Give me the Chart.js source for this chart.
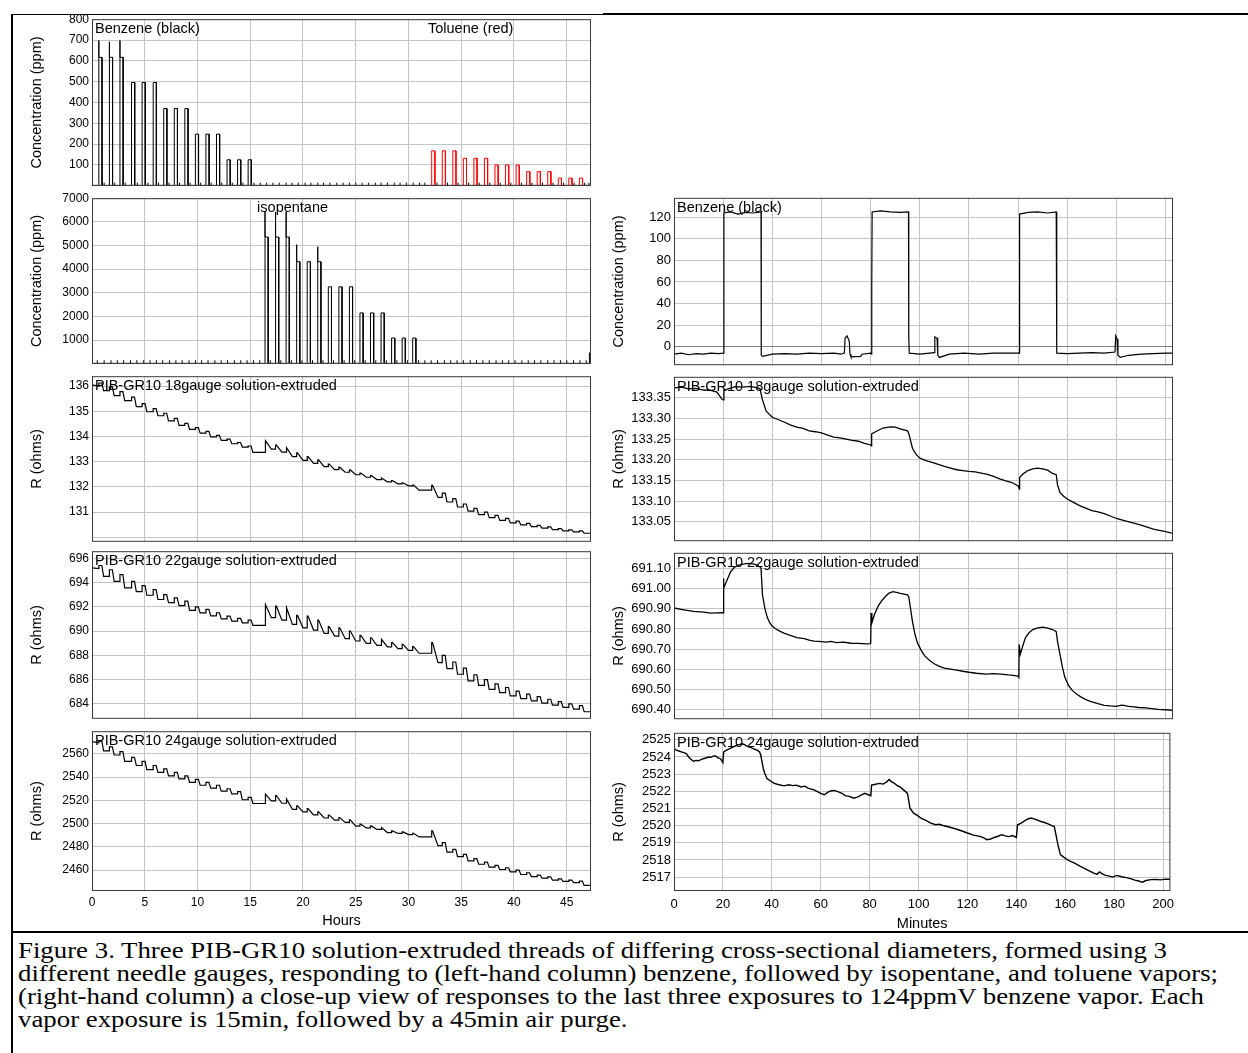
<!DOCTYPE html>
<html>
<head>
<meta charset="utf-8">
<script src="https://cdn.jsdelivr.net/npm/chart.js@4.4.1/dist/chart.umd.min.js"></script>
<style>
    body { margin: 0; background: #fff; }
    #fig { position: relative; width: 1248px; height: 1053px; overflow: hidden; background: #fff; }
    #fig canvas { position: absolute; }
    .rule { position: absolute; background: #000; }
    .cap {
        position: absolute; left: 18px; height: 24px; line-height: 24px;
        font-family: "Liberation Serif", "Times New Roman", serif; font-size: 23px;
        white-space: nowrap; color: #000; transform-origin: 0 50%;
    }
</style>
</head>
<body>
<div id="fig">
    <div class="rule" style="left:12px;top:14px;width:591px;height:1px"></div>
    <div class="rule" style="left:603px;top:13px;width:645px;height:2px"></div>
    <div class="rule" style="left:11px;top:14px;width:2px;height:1039px"></div>
    <div class="rule" style="left:12px;top:931px;width:1236px;height:2px"></div>

    <canvas id="conc-bt"></canvas>
    <canvas id="conc-iso"></canvas>
    <canvas id="r18"></canvas>
    <canvas id="r22"></canvas>
    <canvas id="r24"></canvas>
    <canvas id="close-conc"></canvas>
    <canvas id="close18"></canvas>
    <canvas id="close22"></canvas>
    <canvas id="close24"></canvas>

    <span class="cap" style="top:939px">Figure 3. Three PIB-GR10 solution-extruded threads of differing cross-sectional diameters, formed using 3</span>
    <span class="cap" style="top:962px">different needle gauges, responding to (left-hand column) benzene, followed by isopentane, and toluene vapors;</span>
    <span class="cap" style="top:985px">(right-hand column) a close-up view of responses to the last three exposures to 124ppmV benzene vapor. Each</span>
    <span class="cap" style="top:1008px">vapor exposure is 15min, followed by a 45min air purge.</span>
</div>
<script>
// ---- long run (hours) ----
const HOURS_MAX = 47.3;
const hourTicks = [0, 5, 10, 15, 20, 25, 30, 35, 40, 45];

const benzeneStarts = [0.65, 1.65, 2.65, 3.75, 4.75, 5.8, 6.8, 7.8, 8.8, 9.8, 10.8, 11.8, 12.8, 13.8, 14.8];
const benzeneLevels = [617, 617, 617, 496, 496, 496, 371, 371, 371, 248, 248, 248, 125, 125, 125];
const benzeneSpikes = [698, 692, 698, null, null, null, null, null, null, null, null, null, null, null, null];

const isoStarts = [16.4, 17.4, 18.4, 19.4, 20.4, 21.4, 22.4, 23.4, 24.4, 25.4, 26.4, 27.4, 28.4, 29.4, 30.4];
const isoLevels = [5358, 5358, 5358, 4315, 4315, 4315, 3254, 3254, 3254, 2150, 2150, 2150, 1090, 1090, 1090];
const isoSpikes = [6420, 6420, 6420, 5036, null, 4950, null, null, null, null, null, null, null, null, null];

const tolueneStarts = [32.2, 33.2, 34.2, 35.2, 36.2, 37.2, 38.2, 39.2, 40.2, 41.2, 42.2, 43.2, 44.2, 45.2, 46.2];
const tolueneLevels = [168, 168, 168, 132, 132, 132, 100, 100, 100, 68, 68, 68, 37, 37, 37];

// small flow blips on the concentration baselines
const baseBlipsBT = [1.15, 2.15, 3.15, 4.3, 5.3, 6.3, 7.3, 8.3, 9.3, 10.3, 11.3, 12.3, 13.3, 14.3, 15.35,
    15.95, 16.55, 17.15, 17.75, 18.4, 18.95, 19.55, 20.2, 20.75, 21.4, 21.95, 22.55, 23.2, 23.8, 24.4,
    25.0, 25.6, 26.2, 26.85, 27.4, 28.0, 28.65, 29.2, 29.8, 30.45, 31.05, 31.55, 32.7, 33.7, 34.7, 35.7,
    36.7, 37.7, 38.7, 39.7, 40.7, 41.7, 42.7, 43.7, 44.7, 45.7, 46.7, 47.1];
const baseBlipsIso = [0.5, 1.15, 1.8, 2.4, 3.0, 3.65, 4.25, 4.9, 5.5, 6.1, 6.7, 7.35, 7.95, 8.55, 9.2,
    9.8, 10.4, 11.0, 11.65, 12.25, 12.85, 13.5, 14.1, 14.7, 15.3, 15.9, 16.9, 17.9, 18.9, 19.9, 20.9,
    21.9, 22.9, 23.9, 24.9, 25.9, 26.9, 27.9, 28.9, 29.9, 30.95, 31.55, 32.15, 32.75, 33.4, 34.0, 34.6,
    35.2, 35.85, 36.45, 37.05, 37.65, 38.3, 38.9, 39.5, 40.1, 40.75, 41.35, 41.95, 42.55, 43.2, 43.8,
    44.4, 45.0, 45.65, 46.25, 46.85];
const blipHeightBT = 15;
const blipHeightIso = 150;
const endSpikeIso = 480;

// exposure order for the resistance records: q = square response, s = sharp rise then decay
const exposureStarts = benzeneStarts.concat(isoStarts, tolueneStarts);
const exposureShape = "qqqqqqqqqqqqqqq" + "sssssssssssssss" + "sqqqqqqqqqqqqqq";

const r18Start = 136.05, r18End = 130.16;
const r18Pre = [136.0, 135.82, 135.62, 135.42, 135.18, 134.98, 134.82, 134.62, 134.44, 134.28, 134.13, 133.98, 133.84, 133.71, 133.58,
    133.37, 133.5, 133.38, 133.2, 133.05, 132.93, 132.8, 132.68, 132.58, 132.48, 132.38, 132.29, 132.2, 132.12, 132.04,
    131.87, 131.58, 131.4, 131.2, 131.04, 130.9, 130.78, 130.67, 130.57, 130.49, 130.42, 130.36, 130.3, 130.25, 130.21];
const r18Peak = [136.12, 135.97, 135.78, 135.56, 135.3, 135.1, 134.92, 134.72, 134.52, 134.35, 134.2, 134.04, 133.89, 133.76, 133.62,
    133.83, 133.66, 133.55, 133.35, 133.2, 133.07, 132.9, 132.78, 132.67, 132.55, 132.45, 132.35, 132.25, 132.16, 132.07,
    132.06, 131.75, 131.53, 131.32, 131.15, 131.0, 130.87, 130.75, 130.64, 130.55, 130.47, 130.41, 130.34, 130.29, 130.25];

const r22Start = 695.2, r22End = 683.35;
const r22Pre = [695.15, 694.5, 694.1, 693.55, 693.25, 692.95, 692.6, 692.35, 692.1, 691.7, 691.5, 691.25, 691.0, 690.82, 690.68,
    690.47, 691.1, 690.9, 690.55, 690.27, 690.08, 689.81, 689.59, 689.37, 689.18, 688.99, 688.82, 688.69, 688.55, 688.41,
    688.17, 687.4, 686.9, 686.44, 685.89, 685.53, 685.2, 684.93, 684.66, 684.44, 684.25, 684.06, 683.9, 683.71, 683.57];
const r22Peak = [695.4, 695.05, 694.65, 694.1, 693.75, 693.42, 693.0, 692.74, 692.47, 692.0, 691.78, 691.51, 691.23, 691.04, 690.9,
    692.19, 692.05, 691.92, 691.29, 691.23, 690.9, 690.36, 690.27, 690.0, 689.64, 689.45, 689.32, 689.04, 688.91, 688.71,
    689.04, 688.0, 687.45, 686.95, 686.4, 686.0, 685.65, 685.35, 685.05, 684.8, 684.6, 684.38, 684.18, 684.0, 683.85];

const r24Start = 2570.6, r24End = 2446.8;
const r24Pre = [2569.5, 2562.5, 2559, 2553.5, 2550, 2546.5, 2544, 2541, 2538.5, 2535.5, 2533, 2530.5, 2528, 2525.5, 2520.5,
    2517.3, 2519.5, 2517.5, 2512.3, 2510.0, 2507.5, 2504.8, 2503.0, 2501.0, 2497.8, 2496.3, 2495.0, 2492.3, 2491.5, 2490.5,
    2488.5, 2481.0, 2475.5, 2471.5, 2468.0, 2465.0, 2462.5, 2460.5, 2458.5, 2456.2, 2454.4, 2453.0, 2451.3, 2450.2, 2449.2];
const r24Peak = [2571, 2566, 2562, 2557, 2553.5, 2550, 2547, 2544, 2541, 2538, 2535.5, 2533, 2530, 2527.5, 2522.5,
    2525.4, 2524.0, 2521.1, 2515.3, 2513.0, 2510.1, 2507.3, 2505.2, 2503.2, 2499.5, 2498.0, 2496.6, 2493.7, 2492.8, 2491.7,
    2493.7, 2483.6, 2477.9, 2473.5, 2469.8, 2466.9, 2464.0, 2462.0, 2460.0, 2457.7, 2455.7, 2454.2, 2452.5, 2451.4, 2450.5];

// ---- close-up of last three 124 ppm benzene exposures (minutes) ----
const MINUTES_MAX = 203;
const minuteTicks = [0, 20, 40, 60, 80, 100, 120, 140, 160, 180, 200];

const closeBenzene = [[0, -7], [3, -6], [6, -7.5], [9, -6.5], [12, -7], [15, -6], [18, -6.5], [20.2, -6], [20.3, 124],
    [23, 125], [26, 123], [29, 124.5], [32, 124], [35.4, 125], [35.5, -8], [36, -9], [40, -7], [45, -6.5], [50, -7],
    [55, -6], [60, -6.5], [65, -6], [68, -7], [69.3, -6], [69.6, 8], [70.4, 10], [71.3, 5], [71.6, -7], [72, -9.5],
    [76, -9], [76.5, -7], [80, -6], [80.4, -7], [80.45, 57], [80.6, 125], [84, 126], [88, 125], [92, 124.5], [95.4, 125],
    [95.5, 10], [95.7, -6], [100, -7], [104, -6], [105.8, -5.5], [106.1, 9], [107, 8], [107.3, -8], [108, -10], [112, -7],
    [118, -6], [124, -7], [130, -6], [136, -6], [140.5, -6], [140.6, 123], [144, 124.5], [148, 125], [152, 124],
    [155.5, 125], [155.6, 77], [155.8, -6], [160, -6.5], [165, -6], [170, -5.5], [175, -6], [179.4, -5], [179.7, 10],
    [180.3, 7], [180.6, -8], [181.5, -10], [185, -8], [190, -7], [195, -6.5], [200, -6], [203, -6]];

const close18 = [[0, 133.374], [3, 133.376], [6, 133.372], [9, 133.373], [12, 133.369], [15, 133.368], [17.5, 133.364],
    [19.6, 133.346], [20.1, 133.345], [20.3, 133.368], [22, 133.372], [25, 133.377], [28, 133.376], [31, 133.378],
    [34, 133.374], [35, 133.372], [35.6, 133.355], [36, 133.345], [37.5, 133.318], [40, 133.303], [42.5, 133.297],
    [45, 133.291], [47.5, 133.284], [50, 133.279], [52.5, 133.276], [55, 133.27], [57.5, 133.268], [60, 133.265],
    [62.5, 133.26], [65, 133.255], [67.5, 133.253], [70, 133.25], [72.5, 133.247], [75, 133.245], [77.5, 133.24],
    [80, 133.236], [80.3, 133.234], [80.4, 133.263], [82, 133.268], [85, 133.277], [88, 133.28], [90, 133.279],
    [92, 133.275], [95, 133.27], [95.6, 133.262], [97, 133.228], [98.5, 133.213], [100, 133.204], [102.5, 133.198],
    [105, 133.194], [107.5, 133.189], [110, 133.184], [112.5, 133.18], [115, 133.176], [117.5, 133.174], [120, 133.172],
    [122.5, 133.171], [125, 133.168], [127.5, 133.165], [130, 133.16], [132.5, 133.154], [135, 133.149],
    [137.5, 133.145], [140, 133.137], [140.5, 133.129], [140.6, 133.157], [142, 133.166], [144, 133.174],
    [146, 133.178], [148, 133.18], [150, 133.178], [152, 133.175], [154, 133.167], [155.5, 133.164], [156, 133.14],
    [157, 133.121], [158.5, 133.112], [160, 133.105], [162.5, 133.097], [165, 133.089], [167.5, 133.083],
    [170, 133.077], [172.5, 133.074], [175, 133.07], [177.5, 133.064], [180, 133.058], [182.5, 133.054], [185, 133.05],
    [187.5, 133.046], [190, 133.042], [192.5, 133.037], [195, 133.032], [197.5, 133.029], [200, 133.026], [203, 133.022]];

const close22 = [[0, 690.904], [4, 690.895], [8, 690.887], [12, 690.884], [15, 690.879], [19.8, 690.881], [20, 690.88],
    [20.1, 691.05], [20.3, 691.002], [21.5, 691.04], [23, 691.083], [24.5, 691.105], [26, 691.116], [28, 691.122],
    [30, 691.125], [32, 691.123], [33, 691.12], [35, 691.108], [35.4, 691.1], [36, 690.969], [37, 690.9], [38, 690.855],
    [39, 690.83], [40, 690.813], [41.5, 690.8], [43, 690.789], [45, 690.778], [47, 690.769], [50, 690.757],
    [53, 690.752], [55, 690.745], [57, 690.74], [60, 690.737], [62, 690.735], [64, 690.738], [66, 690.732],
    [69, 690.735], [72, 690.729], [75, 690.728], [78, 690.726], [80, 690.727], [80.2, 690.879], [80.5, 690.83],
    [81.5, 690.87], [83, 690.912], [84.5, 690.94], [86, 690.961], [87.5, 690.978], [89, 690.985], [90.5, 690.982],
    [92, 690.977], [94, 690.972], [95, 690.969], [95.5, 690.96], [97, 690.838], [98, 690.775], [99, 690.732],
    [100.5, 690.695], [102, 690.666], [104, 690.643], [106, 690.626], [108, 690.614], [110, 690.606], [112.5, 690.601],
    [115, 690.596], [117.5, 690.59], [120, 690.585], [123, 690.58], [127, 690.576], [130, 690.578], [133, 690.576],
    [136, 690.572], [138, 690.57], [140, 690.566], [140.3, 690.56], [140.4, 690.724], [140.9, 690.675], [142, 690.72],
    [143, 690.757], [144.5, 690.782], [146, 690.797], [148, 690.805], [150, 690.809], [152, 690.804], [154, 690.797],
    [155.5, 690.786], [156, 690.74], [157, 690.675], [158, 690.61], [159, 690.56], [160.5, 690.52], [162, 690.495],
    [164, 690.475], [166, 690.459], [168, 690.447], [170, 690.438], [172.5, 690.429], [175, 690.421], [177.5, 690.418],
    [180, 690.416], [182, 690.422], [183, 690.421], [185, 690.416], [187, 690.413], [189, 690.41], [192, 690.408],
    [194.5, 690.405], [197, 690.401], [200, 690.399], [203, 690.396]];

const close24 = [[0, 2524.49], [1, 2524.4], [2, 2524.35], [3, 2524.3], [4, 2524.25], [5, 2524.2], [6, 2524.0], [7, 2523.85],
    [8, 2523.75], [9, 2523.8], [10, 2523.78], [11, 2523.85], [12, 2523.9], [13, 2523.94], [14, 2524.0], [15, 2523.98],
    [16, 2524.05], [17, 2524.06], [18, 2523.95], [19, 2523.9], [20, 2523.67], [20.3, 2524.29], [21.5, 2524.4],
    [23, 2524.5], [25, 2524.64], [26.5, 2524.72], [28, 2524.77], [29, 2524.7], [30, 2524.62], [31.5, 2524.55],
    [33, 2524.45], [34, 2524.4], [35, 2524.29], [35.5, 2524.1], [36.5, 2523.33], [37, 2523.1], [38, 2522.75],
    [39.5, 2522.6], [41, 2522.46], [43, 2522.38], [45, 2522.32], [47, 2522.38], [48.5, 2522.33], [50, 2522.36],
    [52, 2522.25], [53.5, 2522.3], [55, 2522.17], [57, 2522.1], [58.5, 2522.0], [60, 2521.88], [61.5, 2521.8],
    [63, 2521.95], [64, 2522.02], [65.5, 2522.05], [67, 2521.98], [68.5, 2521.9], [70, 2521.75], [72, 2521.69],
    [73.5, 2521.6], [75, 2521.66], [76.5, 2521.78], [78, 2521.88], [79.5, 2521.8], [80.5, 2521.74], [80.8, 2522.36],
    [82, 2522.4], [84, 2522.46], [85.5, 2522.42], [87, 2522.55], [88, 2522.69], [89, 2522.55], [90, 2522.48],
    [91, 2522.36], [92.5, 2522.25], [94, 2522.07], [95.5, 2521.88], [96.5, 2521.02], [98, 2520.73], [99.5, 2520.6],
    [101, 2520.44], [103, 2520.3], [105, 2520.15], [107, 2520.05], [108.5, 2520.08], [110, 2520.01], [112.5, 2519.92],
    [115, 2519.82], [117.5, 2519.7], [120, 2519.57], [122.5, 2519.45], [125, 2519.37], [126.5, 2519.3], [128, 2519.18],
    [129.5, 2519.22], [131, 2519.31], [132.5, 2519.38], [134, 2519.47], [135.5, 2519.4], [137, 2519.36],
    [138.5, 2519.42], [140, 2519.31], [140.5, 2520.05], [142, 2520.15], [144, 2520.34], [145, 2520.4], [146, 2520.44],
    [147.5, 2520.38], [149, 2520.3], [150, 2520.24], [151.5, 2520.18], [153, 2520.1], [154.5, 2520.0], [155.5, 2519.95],
    [156.3, 2519.4], [157, 2518.89], [158, 2518.31], [159.5, 2518.15], [161, 2518.0], [162, 2517.93], [164, 2517.8],
    [166, 2517.64], [168, 2517.5], [170, 2517.35], [171.5, 2517.25], [173, 2517.16], [174, 2517.3], [175, 2517.2],
    [176.5, 2517.1], [178, 2517.06], [179.5, 2517.0], [181, 2517.1], [183, 2517.02], [185, 2516.97], [187, 2516.9],
    [188.5, 2516.82], [190, 2516.77], [191.5, 2516.7], [193, 2516.8], [195, 2516.85], [197, 2516.87], [199, 2516.84],
    [201, 2516.88], [203, 2516.87]];

// ---- y tick values per panel ----
const btTicks = [0, 100, 200, 300, 400, 500, 600, 700, 800];
const isoTicks = [0, 1000, 2000, 3000, 4000, 5000, 6000, 7000];
const r18Ticks = [130, 131, 132, 133, 134, 135, 136];
const r22Ticks = [684, 686, 688, 690, 692, 694, 696];
const r24Ticks = [2460, 2480, 2500, 2520, 2540, 2560];
const closeConcTicks = [0, 20, 40, 60, 80, 100, 120];
const close18Ticks = [133.05, 133.1, 133.15, 133.2, 133.25, 133.3, 133.35];
const close22Ticks = [690.4, 690.5, 690.6, 690.7, 690.8, 690.9, 691.0, 691.1];
const close24Ticks = [2517, 2518, 2519, 2520, 2521, 2522, 2523, 2524, 2525];

const FONT = "'Liberation Sans', Arial, sans-serif";
Chart.defaults.font.family = FONT;
Chart.defaults.font.size = 12;
Chart.defaults.color = "#000";

const GRID = "#c4c4c4";
const PULSE_W = 0.3;
const PAD_TOP = 10;
const LABEL_SIZE = 14.5;

// black/red concentration outline: baseline, optional spike, plateau, back to baseline
function pulseOutline(starts, levels, spikes, joined) {
    const pts = joined ? [{x: 0, y: 0}] : [];
    starts.forEach((t, i) => {
        pts.push({x: t, y: 0});
        if (spikes && spikes[i]) pts.push({x: t, y: spikes[i]});
        pts.push({x: t, y: levels[i]}, {x: t + PULSE_W, y: levels[i]}, {x: t + PULSE_W, y: 0});
        if (!joined) pts.push({x: t + PULSE_W, y: null});
    });
    if (joined) pts.push({x: HOURS_MAX, y: 0});
    return pts;
}

function blips(times, h) {
    const pts = [];
    times.forEach((t) => pts.push({x: t, y: 0}, {x: t, y: h}, {x: t, y: null}));
    return pts;
}

function responseTrace(pre, peak, startVal, endVal) {
    const pts = [{x: 0, y: startVal}];
    exposureStarts.forEach((t, i) => {
        const next = i + 1 < pre.length ? pre[i + 1] : endVal;
        pts.push({x: t, y: pre[i]}, {x: t, y: peak[i]});
        if (exposureShape[i] === "s") {
            pts.push({x: t + 0.08, y: peak[i]}, {x: t + 0.6, y: next});
        } else {
            pts.push({x: t + 0.28, y: peak[i]}, {x: t + 0.45, y: next});
        }
    });
    pts.push({x: HOURS_MAX, y: endVal});
    return pts;
}

const pairs = (arr) => arr.map(([x, y]) => ({x, y}));

const line = (data, color, width) => ({
    data,
    borderColor: color || "#000",
    borderWidth: width || 1,
    pointRadius: 0,
    tension: 0,
    spanGaps: false,
});

// plot frame plus the in-plot captions
function framePlugin(notes) {
    return {
        id: "frame",
        afterDraw(chart) {
            const {ctx, chartArea: a} = chart;
            ctx.save();
            ctx.strokeStyle = "#3a3a3a";
            ctx.lineWidth = 1;
            ctx.strokeRect(a.left + 0.5, a.top + 0.5, a.right - a.left - 1, a.bottom - a.top - 1);
            ctx.font = `${LABEL_SIZE}px ${FONT}`;
            ctx.fillStyle = "#000";
            ctx.textBaseline = "middle";
            notes.forEach((n) => {
                const x = n.at === undefined ? a.left + 3 : chart.scales.x.getPixelForValue(n.at);
                ctx.fillText(n.text, x, a.top + 10);
            });
            ctx.restore();
        },
    };
}

const COLS = {
    left: {x: 14, w: 582, axisW: 78, padR: 5, titlePad: 14, tickSize: 12,
        xMax: HOURS_MAX, xTicks: hourTicks, xPad: 4.5, axisH: 39, xTitle: "Hours"},
    right: {x: 600, w: 580, axisW: 74, padR: 7, titlePad: 10, tickSize: 13,
        xMax: MINUTES_MAX, xTicks: minuteTicks, xPad: 6, axisH: 41.5, xTitle: "Minutes"},
};

function panel(id, col, top, height, spec) {
    const c = COLS[col];
    const bottomRow = !!spec.bottomRow;
    const cv = document.getElementById(id);
    const h = PAD_TOP + height + (bottomRow ? c.axisH : 10);
    cv.width = c.w;
    cv.height = Math.ceil(h);
    cv.style.left = c.x + "px";
    cv.style.top = (top - PAD_TOP) + "px";
    cv.style.width = c.w + "px";
    cv.style.height = Math.ceil(h) + "px";
    const padBottom = Math.ceil(h) - PAD_TOP - height - (bottomRow ? c.axisH : 0);
    const hide = spec.hide || [];
    new Chart(cv, {
        type: "line",
        data: {datasets: spec.datasets},
        options: {
            responsive: false,
            animation: false,
            events: [],
            layout: {autoPadding: false, padding: {top: PAD_TOP, bottom: padBottom, left: 0, right: c.padR}},
            plugins: {legend: {display: false}, tooltip: {enabled: false}},
            scales: {
                x: {
                    type: "linear",
                    min: 0,
                    max: c.xMax,
                    afterBuildTicks: (s) => { s.ticks = c.xTicks.map((v) => ({value: v})); },
                    afterFit: (s) => { s.height = bottomRow ? c.axisH : 0; },
                    ticks: {display: bottomRow, padding: c.xPad, maxRotation: 0, autoSkip: false, font: {size: c.tickSize}},
                    grid: {color: GRID, drawTicks: false},
                    border: {display: false},
                    title: {display: bottomRow, text: c.xTitle, padding: {top: 0, bottom: 0}, font: {size: LABEL_SIZE}},
                },
                y: {
                    type: "linear",
                    min: spec.yMin,
                    max: spec.yMax,
                    afterBuildTicks: (s) => { s.ticks = spec.yTicks.map((v) => ({value: v})); },
                    afterFit: (s) => { s.width = c.axisW; },
                    ticks: {
                        padding: 3,
                        autoSkip: false,
                        font: {size: c.tickSize},
                        callback: (v) => (hide.includes(v) ? "" : spec.decimals ? v.toFixed(spec.decimals) : String(v)),
                    },
                    grid: {color: spec.gridColor || GRID, drawTicks: false},
                    border: {display: false},
                    title: {display: true, text: spec.yTitle, padding: {top: c.titlePad, bottom: 0}, font: {size: LABEL_SIZE}},
                },
            },
        },
        plugins: [framePlugin(spec.notes || [])],
    });
}

// --- left column: long run ---
panel("conc-bt", "left", 19, 167, {
    yMin: 0, yMax: 800, yTicks: btTicks, hide: [0], yTitle: "Concentration (ppm)",
    notes: [{text: "Benzene (black)"}, {text: "Toluene (red)", at: 31.85}],
    datasets: [
        line(pulseOutline(tolueneStarts, tolueneLevels, null, false), "#ff0000"),
        line(pulseOutline(benzeneStarts, benzeneLevels, benzeneSpikes, true)),
        line(blips(baseBlipsBT, blipHeightBT)),
    ],
});

panel("conc-iso", "left", 198, 166, {
    yMin: 0, yMax: 7000, yTicks: isoTicks, hide: [0], yTitle: "Concentration (ppm)",
    notes: [{text: "isopentane", at: 15.65}],
    datasets: [
        line(pulseOutline(isoStarts, isoLevels, isoSpikes, true)),
        line(blips(baseBlipsIso, blipHeightIso)),
        line(blips([47.15], endSpikeIso)),
    ],
});

panel("r18", "left", 376, 166, {
    yMin: 129.82, yMax: 136.39, yTicks: r18Ticks, hide: [130], yTitle: "R (ohms)",
    notes: [{text: "PIB-GR10 18gauge solution-extruded"}],
    datasets: [line(responseTrace(r18Pre, r18Peak, r18Start, r18End), "#000", 1.2)],
});

panel("r22", "left", 551, 168, {
    yMin: 682.77, yMax: 696.58, yTicks: r22Ticks, yTitle: "R (ohms)",
    notes: [{text: "PIB-GR10 22gauge solution-extruded"}],
    datasets: [line(responseTrace(r22Pre, r22Peak, r22Start, r22End), "#000", 1.2)],
});

panel("r24", "left", 731, 160, {
    bottomRow: true,
    yMin: 2442, yMax: 2579.5, yTicks: r24Ticks, yTitle: "R (ohms)",
    notes: [{text: "PIB-GR10 24gauge solution-extruded"}],
    datasets: [line(responseTrace(r24Pre, r24Peak, r24Start, r24End), "#000", 1.2)],
});

// --- right column: close-up in minutes ---
panel("close-conc", "right", 197, 169, {
    yMin: -17.2, yMax: 138.1, yTicks: closeConcTicks, yTitle: "Concentration (ppm)",
    gridColor: (ctx) => (ctx.tick && ctx.tick.value === 0 ? "#808080" : GRID),
    notes: [{text: "Benzene (black)"}],
    datasets: [line(pairs(closeBenzene), "#000", 1.2)],
});

panel("close18", "right", 376, 166, {
    yMin: 133.003, yMax: 133.401, yTicks: close18Ticks, decimals: 2, yTitle: "R (ohms)",
    notes: [{text: "PIB-GR10 18gauge solution-extruded"}],
    datasets: [line(pairs(close18), "#000", 1.3)],
});

panel("close22", "right", 552, 168, {
    yMin: 690.352, yMax: 691.178, yTicks: close22Ticks, decimals: 2, yTitle: "R (ohms)",
    notes: [{text: "PIB-GR10 22gauge solution-extruded"}],
    datasets: [line(pairs(close22), "#000", 1.3)],
});

panel("close24", "right", 732, 159, {
    bottomRow: true,
    yMin: 2516.19, yMax: 2525.41, yTicks: close24Ticks, yTitle: "R (ohms)",
    notes: [{text: "PIB-GR10 24gauge solution-extruded"}],
    datasets: [line(pairs(close24), "#000", 1.4)],
});

// caption: stretch the serif lines to the column width of the first one
const capLines = document.querySelectorAll(".cap");
const k = 1149 / capLines[0].getBoundingClientRect().width;
capLines.forEach((el) => { el.style.transform = `scaleX(${k})`; });
</script>
</body>
</html>
